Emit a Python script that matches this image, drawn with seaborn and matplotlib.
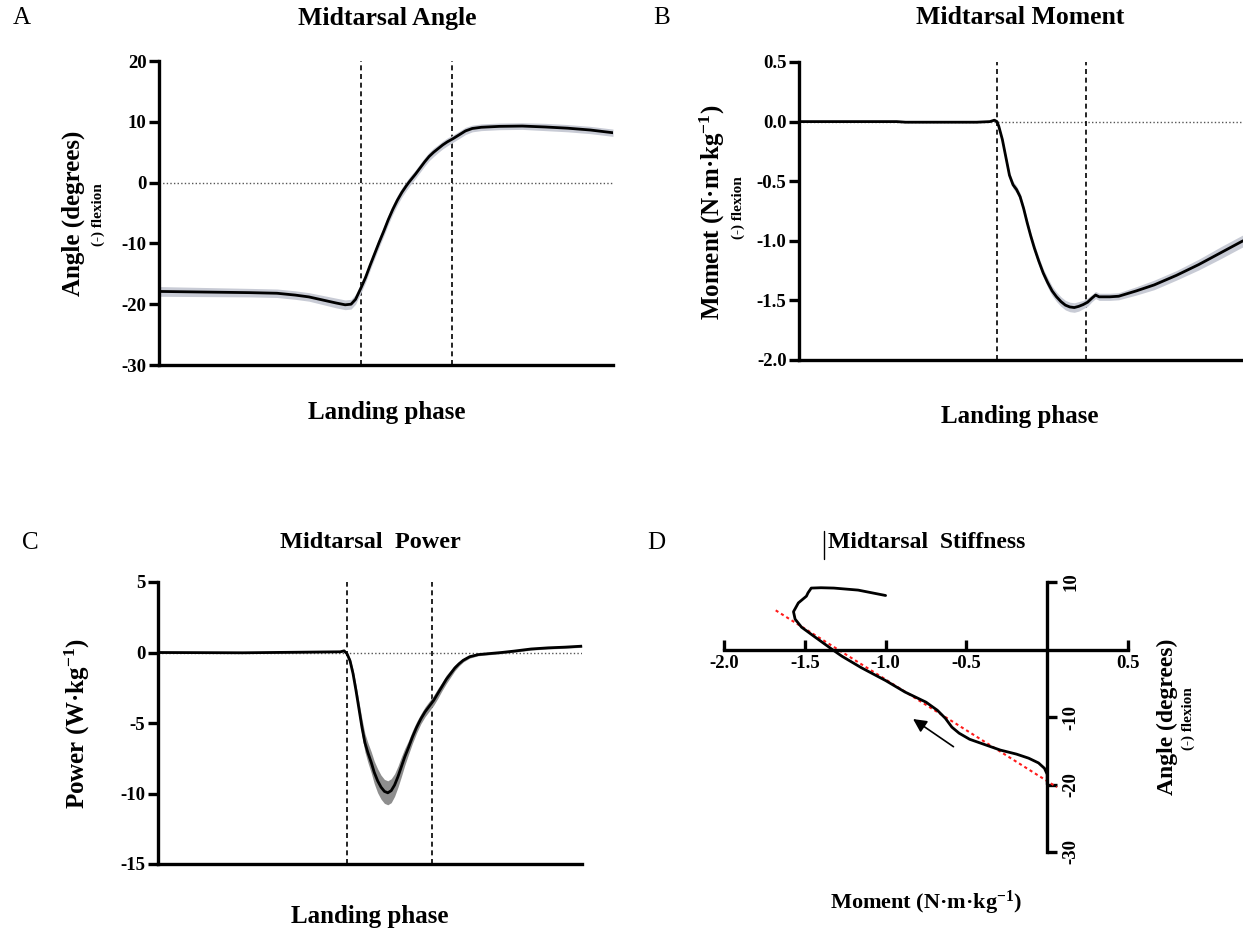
import numpy as np
import matplotlib
matplotlib.use("Agg")
import matplotlib.pyplot as plt
import seaborn as sns
from matplotlib.lines import Line2D

# ---------------- data ----------------
phase_lines = [44.5, 64.6]          # initial contact / end of phase (% landing phase)

t_angle = [0, 10, 20, 26, 30, 33, 36, 39, 41, 42.3, 43.3, 44.5, 45.5, 46.5, 47.5,
           48.5, 49.5, 50.5, 51.5, 52.5, 53.5, 54.5, 55.2, 56.5, 57.5, 58.5, 59.5,
           60.5, 61.5, 62.5, 63.5, 64.7, 66, 67.5, 69, 71, 75, 80, 85, 90, 95, 100]
angle = [-17.9, -18.0, -18.1, -18.2, -18.5, -18.8, -19.3, -19.8, -20.1, -20.0, -19.2,
         -17.3, -15.6, -13.6, -11.7, -9.8, -8.0, -6.1, -4.4, -2.9, -1.6, -0.5, 0.2,
         1.4, 2.4, 3.4, 4.3, 5.0, 5.6, 6.2, 6.7, 7.2, 7.8, 8.5, 8.9, 9.1, 9.25, 9.3,
         9.15, 8.95, 8.65, 8.2]
angle_sd = [0.8, 0.75, 0.7, 0.7, 0.7, 0.7, 0.75, 0.8, 0.8, 0.8, 0.8, 0.8, 0.8, 0.8,
            0.8, 0.8, 0.8, 0.8, 0.8, 0.8, 0.75, 0.75, 0.75, 0.7, 0.7, 0.7, 0.7, 0.7,
            0.65, 0.65, 0.65, 0.6, 0.6, 0.6, 0.55, 0.55, 0.55, 0.55, 0.6, 0.6, 0.6, 0.6]

t_moment = [0, 22, 24, 40, 43, 44.0, 44.6, 45.0, 45.8, 46.6, 47.4, 48.2, 49.0, 49.8,
            50.6, 51.4, 52.2, 53.0, 54.0, 55.0, 56.0, 57.0, 58.0, 59.0, 60.0, 61.0,
            62.0, 63.0, 64.0, 65.0, 66.0, 66.8, 67.6, 70, 72, 76, 80, 85, 90, 95, 100]
moment = [0.0, 0.0, -0.005, -0.005, 0.0, 0.012, 0.0, -0.04, -0.15, -0.3, -0.45, -0.53,
          -0.57, -0.63, -0.73, -0.85, -0.96, -1.06, -1.17, -1.27, -1.35, -1.42, -1.47,
          -1.51, -1.54, -1.555, -1.56, -1.55, -1.535, -1.515, -1.48, -1.455, -1.47,
          -1.47, -1.465, -1.42, -1.37, -1.29, -1.20, -1.10, -1.0]
moment_sd = [0.004, 0.004, 0.004, 0.004, 0.004, 0.005, 0.008, 0.01, 0.015, 0.02,
             0.025, 0.03, 0.03, 0.03, 0.03, 0.03, 0.03, 0.035, 0.035, 0.035, 0.04,
             0.04, 0.04, 0.04, 0.04, 0.04, 0.04, 0.04, 0.035, 0.035, 0.03, 0.03, 0.03,
             0.03, 0.03, 0.035, 0.04, 0.04, 0.045, 0.05, 0.05]

t_power = [0, 20, 43, 43.9, 44.6, 45.3, 46.0, 46.7, 47.4, 48.1, 48.8, 49.5, 50.3, 51.0,
           51.8, 52.6, 53.4, 54.2, 55.0, 55.8, 56.6, 57.4, 58.2, 59.0, 60.0, 61.0,
           62.0, 63.0, 64.0, 65.0, 66.0, 67.0, 68.0, 69.0, 70.0, 71.0, 72.0, 73.5,
           75.5, 78, 81, 84, 88, 92, 96, 100]
power = [0.0, -0.02, 0.05, 0.12, -0.1, -0.6, -1.5, -2.7, -4.0, -5.3, -6.4, -7.1, -7.8,
         -8.5, -9.1, -9.55, -9.85, -9.95, -9.8, -9.4, -8.8, -8.1, -7.4, -6.8, -6.0,
         -5.3, -4.7, -4.2, -3.8, -3.4, -2.9, -2.4, -1.9, -1.5, -1.1, -0.8, -0.55,
         -0.3, -0.15, -0.08, 0.0, 0.1, 0.25, 0.33, 0.38, 0.45]
power_sd = [0.05, 0.05, 0.05, 0.05, 0.1, 0.2, 0.3, 0.4, 0.5, 0.6, 0.65, 0.7, 0.75, 0.8,
            0.85, 0.85, 0.85, 0.85, 0.85, 0.8, 0.75, 0.7, 0.6, 0.5, 0.45, 0.4, 0.35,
            0.35, 0.35, 0.35, 0.35, 0.3, 0.3, 0.25, 0.2, 0.15, 0.12, 0.1, 0.08, 0.08,
            0.08, 0.08, 0.08, 0.08, 0.08, 0.08]

# stiffness loop (moment vs angle)
moment_d = [0.0, 0.0, -0.017, -0.054, -0.115, -0.19, -0.29, -0.385, -0.48, -0.545,
            -0.59, -0.63, -0.68, -0.75, -0.88, -1.0, -1.15, -1.27, -1.33, -1.44,
            -1.52, -1.56, -1.57, -1.54, -1.49, -1.48, -1.46, -1.40, -1.32, -1.17, -1.0]
angle_d = [-20.0, -18.5, -17.6, -16.8, -16.1, -15.5, -14.9, -14.1, -13.3, -12.4, -11.5,
           -10.2, -9.0, -7.8, -6.3, -4.6, -2.7, -1.0, 0.0, 1.9, 3.3, 4.5, 5.6, 6.9,
           7.9, 8.4, 9.1, 9.15, 9.1, 8.8, 8.0]
fit_moment = [-1.68, 0.06]
fit_angle = [5.8, -20.4]
arrow_tail = (-0.58, -14.4)
arrow_head = (-0.83, -10.3)

angle_ticks = [20, 10, 0, -10, -20, -30]
moment_ticks = [0.5, 0.0, -0.5, -1.0, -1.5, -2.0]
power_ticks = [5, 0, -5, -10, -15]
d_xticks = [-2.0, -1.5, -1.0, -0.5, 0.5]
d_yticks = [10, -10, -20, -30]

# ---------------- style ----------------
sns.set_theme(style="ticks")
plt.rcParams["font.family"] = ["Liberation Serif", "DejaVu Serif"]
plt.rcParams["mathtext.fontset"] = "custom"
plt.rcParams["mathtext.rm"] = "Liberation Serif:bold"
plt.rcParams["mathtext.it"] = "Liberation Serif:bold"
plt.rcParams["mathtext.bf"] = "Liberation Serif:bold"

W, H = 1243, 934
fig = plt.figure(figsize=(W / 100, H / 100), dpi=100)
fig.patch.set_facecolor("white")


def box(l, r, t, b):
    return [l / W, 1 - b / H, (r - l) / W, (b - t) / H]


def fx(x):
    return x / W


def fy(y):
    return 1 - y / H


SPINE_W = 2.4
TICK_FS = 13.5
LAB_FS = 18
LETTER_FS = 18
BAND_LIGHT = "#c8cbd5"
BAND_DARK = "#8e8e8e"


def series_panel(ax, t, y, sd, band, ylim, yticks, fmt):
    t = np.asarray(t, float)
    y = np.asarray(y, float)
    sd = np.asarray(sd, float)
    ax.axhline(0, color="#555555", lw=1.0, ls=(0, (1, 1.6)), zorder=0)
    for xv in phase_lines:
        ax.axvline(xv, color="black", lw=1.2, ls=(0, (3, 2.2)), zorder=1)
    ax.fill_between(t, y - sd, y + sd, color=band, lw=0, zorder=2)
    sns.lineplot(x=t, y=y, ax=ax, color="black", lw=2.0, sort=False,
                 estimator=None, zorder=3)
    ax.set_xlim(0, 100)
    ax.set_ylim(ylim)
    ax.set_yticks(yticks)
    ax.set_yticklabels([fmt.format(v) for v in yticks], fontsize=TICK_FS,
                       fontweight="bold")
    ax.set_xticks([])
    ax.set_xlabel("")
    ax.set_ylabel("")
    for s in ["top", "right"]:
        ax.spines[s].set_visible(False)
    for s in ["left", "bottom"]:
        ax.spines[s].set_linewidth(SPINE_W)
        ax.spines[s].set_color("black")
    ax.tick_params(axis="y", length=7, width=SPINE_W, direction="out", pad=2,
                   colors="black")
    ax.set_facecolor("none")


# Panel A
axA = fig.add_axes(box(159, 613, 61, 365))
series_panel(axA, t_angle, angle, angle_sd, BAND_LIGHT, (-30, 20), angle_ticks, "{:g}")
# Panel B
axB = fig.add_axes(box(799, 1243, 62, 360))
series_panel(axB, t_moment, moment, moment_sd, BAND_LIGHT, (-2.0, 0.5), moment_ticks, "{:.1f}")
# Panel C
axC = fig.add_axes(box(158, 582, 582, 864))
series_panel(axC, t_power, power, power_sd, BAND_DARK, (-15, 5), power_ticks, "{:g}")

# Panel D
axD = fig.add_axes(box(724, 1128, 582, 852))
axD.plot(fit_moment, fit_angle, color="#ff1a1a", lw=1.5, ls=(0, (1.5, 1.5)), zorder=2)
sns.lineplot(x=moment_d, y=angle_d, ax=axD, color="black", lw=2.0, sort=False,
             estimator=None, zorder=3)
axD.annotate("", xy=arrow_head, xytext=arrow_tail,
             arrowprops=dict(arrowstyle="-|>", color="black", lw=1.2,
                             mutation_scale=20, shrinkA=0, shrinkB=0))
axD.set_xlim(-2.0, 0.5)
axD.set_ylim(-30, 10)
axD.set_facecolor("none")
axD.spines["left"].set_visible(False)
axD.spines["top"].set_visible(False)
axD.spines["right"].set_position(("data", 0))
axD.spines["bottom"].set_position(("data", 0))
for s in ["right", "bottom"]:
    axD.spines[s].set_linewidth(SPINE_W)
    axD.spines[s].set_color("black")
axD.yaxis.tick_right()
axD.set_xticks(d_xticks)
axD.set_xticklabels([f"{v:.1f}" for v in d_xticks], fontsize=TICK_FS, fontweight="bold")
axD.set_yticks(d_yticks)
axD.set_yticklabels([f"{v:g}" for v in d_yticks], fontsize=TICK_FS, fontweight="bold",
                    rotation=90, va="center")
axD.tick_params(axis="x", direction="in", length=7, width=SPINE_W, pad=4, colors="black")
axD.tick_params(axis="y", direction="out", length=7, width=SPINE_W, pad=4, colors="black")
axD.set_xlabel("")
axD.set_ylabel("")

# ---------------- texts ----------------
bold = dict(fontweight="bold", color="black")
# letters
for x, y, s in [(22, 18, "A"), (662, 18, "B"), (30, 543, "C"), (656, 543, "D")]:
    fig.text(fx(x), fy(y), s, fontsize=LETTER_FS, ha="center", va="center", color="black")
# titles
fig.text(fx(387), fy(18), "Midtarsal Angle", fontsize=18.5, ha="center", va="center", **bold)
fig.text(fx(1020), fy(18), "Midtarsal Moment", fontsize=18.5, ha="center", va="center", **bold)
fig.text(fx(370), fy(543), "Midtarsal  Power", fontsize=17.5, ha="center", va="center", **bold)
fig.text(fx(927), fy(543), "Midtarsal  Stiffness", fontsize=17, ha="center", va="center", **bold)
fig.add_artist(Line2D([fx(824), fx(824)], [fy(531), fy(559)], color="black", lw=1.0))
# x labels
fig.text(fx(387), fy(413), "Landing phase", fontsize=LAB_FS, ha="center", va="center", **bold)
fig.text(fx(1020), fy(416), "Landing phase", fontsize=LAB_FS, ha="center", va="center", **bold)
fig.text(fx(370), fy(917), "Landing phase", fontsize=LAB_FS, ha="center", va="center", **bold)
fig.text(fx(926), fy(903), "Moment (N·m·kg$^{-1}$)", fontsize=16, ha="center", va="center", **bold)
# y labels
fig.text(fx(73), fy(213), "Angle (degrees)", fontsize=LAB_FS, rotation=90, ha="center", va="center", **bold)
fig.text(fx(98), fy(215), "(-) flexion", fontsize=11, rotation=90, ha="center", va="center", **bold)
fig.text(fx(712), fy(212), "Moment (N·m·kg$^{-1}$)", fontsize=LAB_FS, rotation=90, ha="center", va="center", **bold)
fig.text(fx(738), fy(208), "(-) flexion", fontsize=11, rotation=90, ha="center", va="center", **bold)
fig.text(fx(77), fy(723), "Power (W·kg$^{-1}$)", fontsize=LAB_FS, rotation=90, ha="center", va="center", **bold)
fig.text(fx(1167), fy(717), "Angle (degrees)", fontsize=17, rotation=90, ha="center", va="center", **bold)
fig.text(fx(1188), fy(719), "(-) flexion", fontsize=11, rotation=90, ha="center", va="center", **bold)

fig.savefig("out.png", dpi=100)
